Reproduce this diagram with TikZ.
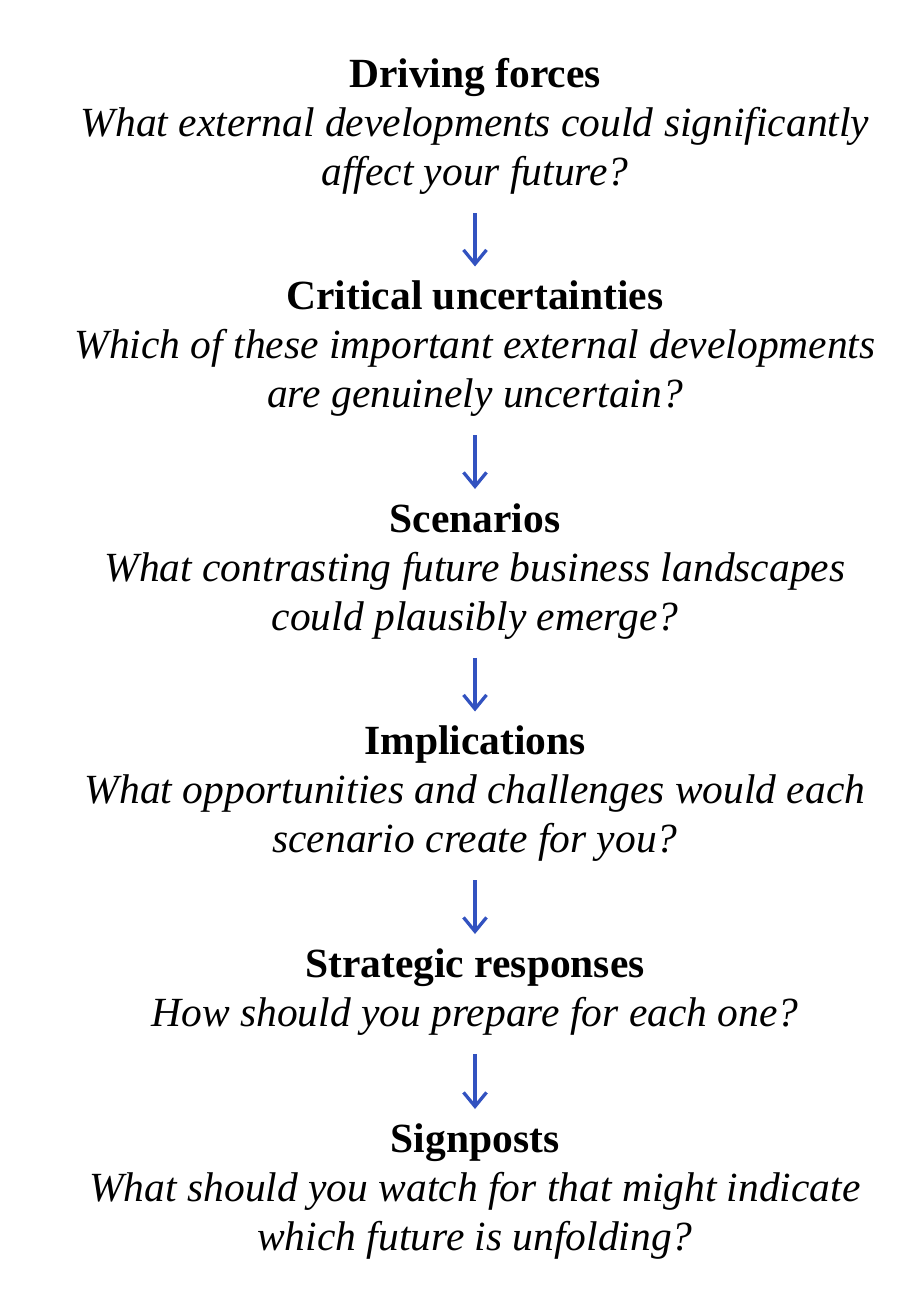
\documentclass[tikz,border=0pt]{standalone}
\usepackage{fontspec}
\setmainfont{Liberation Serif}
\usetikzlibrary{arrows.meta}
\definecolor{flowblue}{RGB}{50,82,192}

\begin{document}
\begin{tikzpicture}[x=1pt,y=1pt]
\tikzset{every node/.style={inner sep=0pt}}
\tikzset{stage/.style={anchor=north,align=center,font=\fontsize{41.5}{49}\selectfont,
  execute at begin node=\strut,execute at end node=\strut}}
\tikzset{flow/.style={draw=flowblue,line width=3.3pt,-{Straight Barb[length=14pt,width=23pt,line width=3.3pt]},
  shorten <=13pt,shorten >=14pt}}
\useasboundingbox (0,0) rectangle (920,-1292);
\node [stage] (forces) at (475,-58) {\textbf{Driving forces}\\ \textit{What external developments could significantly}\\ \textit{affect your future?}};
\node [stage] (uncert) at (475,-280.5) {\textbf{Critical uncertainties}\\ \textit{Which of these important external developments}\\ \textit{are genuinely uncertain?}};
\node [stage] (scen) at (475,-503) {\textbf{Scenarios}\\ \textit{What contrasting future business landscapes}\\ \textit{could plausibly emerge?}};
\node [stage] (impl) at (475,-725.5) {\textbf{Implications}\\ \textit{What opportunities and challenges would each}\\ \textit{scenario create for you?}};
\node [stage] (resp) at (475,-948) {\textbf{Strategic responses}\\ \textit{How should you prepare for each one?}};
\node [stage] (signs) at (475,-1123) {\textbf{Signposts}\\ \textit{What should you watch for that might indicate}\\ \textit{which future is unfolding?}};
\draw [flow] (forces) -- (uncert);
\draw [flow] (uncert) -- (scen);
\draw [flow] (scen) -- (impl);
\draw [flow] (impl) -- (resp);
\draw [flow] (resp) -- (signs);
\end{tikzpicture}
\end{document}
